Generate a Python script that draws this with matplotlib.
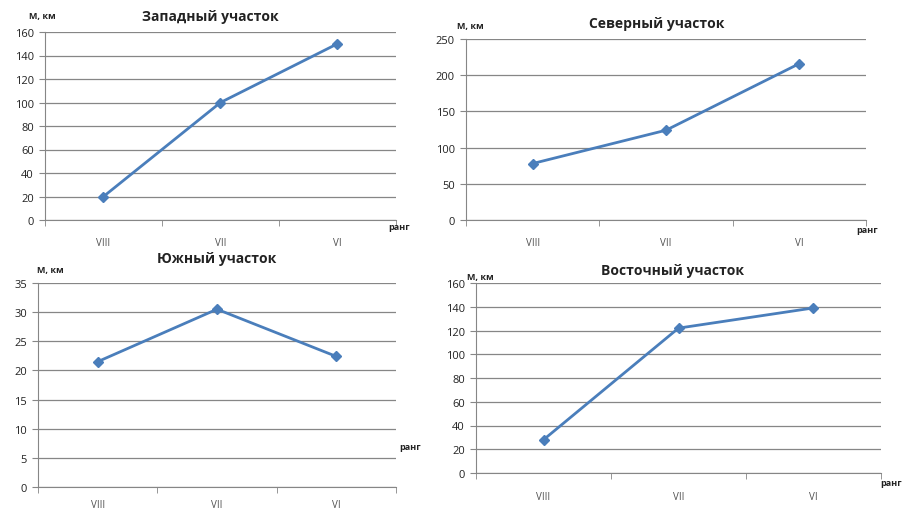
import numpy as np
import matplotlib.pyplot as plt

plt.rcParams['font.family'] = ['Open Sans', 'DejaVu Sans']

ranks = ["VIII", "VII", "VI"]
west = [20, 100, 150]
north = [78, 124, 216]
south = [21.5, 30.5, 22.4]
east = [28, 122, 139]

W, H = 903, 510
fig = plt.figure(figsize=(W / 100, H / 100), dpi=100)

LINE = "#4a7ebb"
GRID = "#868686"


def px_axes(x0, y0, x1, y1):
    # pixel box (top-left origin) -> figure fraction
    return fig.add_axes([x0 / W, 1 - y1 / H, (x1 - x0) / W, (y1 - y0) / H])


def panel(box, values, title, ymax, ystep, title_xy, unit_xy, rank_xy, lab_pad):
    ax = px_axes(*box)
    x = np.arange(len(ranks))
    ax.plot(x, values, color=LINE, lw=2, marker="D", ms=5,
            mfc=LINE, mec=LINE)
    ax.set_xlim(-0.5, len(ranks) - 0.5)
    ax.set_ylim(0, ymax)
    ax.set_yticks(np.arange(0, ymax + ystep / 2, ystep))
    ax.yaxis.grid(True, color=GRID, lw=0.9)
    ax.set_axisbelow(True)
    ax.set_xticks(x)
    ax.set_xticklabels(ranks)
    ax.set_xticks(np.arange(-0.5, len(ranks)), minor=True)
    ax.tick_params(axis="x", which="major", length=0, pad=lab_pad,
                   labelsize=7, labelcolor="#505050")
    ax.tick_params(axis="x", which="minor", length=4, color=GRID)
    ax.tick_params(axis="y", length=4, color=GRID, labelsize=8,
                   labelcolor="#222222", pad=4)
    for s in ("top", "right"):
        ax.spines[s].set_visible(False)
    for s in ("left", "bottom"):
        ax.spines[s].set_color(GRID)
    fig.text(title_xy[0] / W, 1 - title_xy[1] / H, title, ha="center",
             va="center", fontsize=10, fontweight="bold", color="#222222")
    fig.text(unit_xy[0] / W, 1 - unit_xy[1] / H, "М, км", ha="left",
             va="center", fontsize=6.5, fontweight="bold", color="#222222")
    fig.text(rank_xy[0] / W, 1 - rank_xy[1] / H, "ранг", ha="left",
             va="center", fontsize=6.5, fontweight="bold", color="#222222")
    return ax


panel((45, 33, 396, 221), west, "Западный участок", 160, 20,
      (210, 17), (29, 17), (388, 228), 12)
panel((466, 40, 866, 221), north, "Северный участок", 250, 50,
      (657, 24), (457, 27), (856, 231), 12)
panel((38, 284, 396, 488), south, "Южный участок", 35, 5,
      (217, 259), (37, 270), (399, 448), 9)
panel((476, 284, 881, 474), east, "Восточный участок", 160, 20,
      (673, 271), (467, 278), (880, 484), 13)

fig.savefig("out.png", dpi=100)
